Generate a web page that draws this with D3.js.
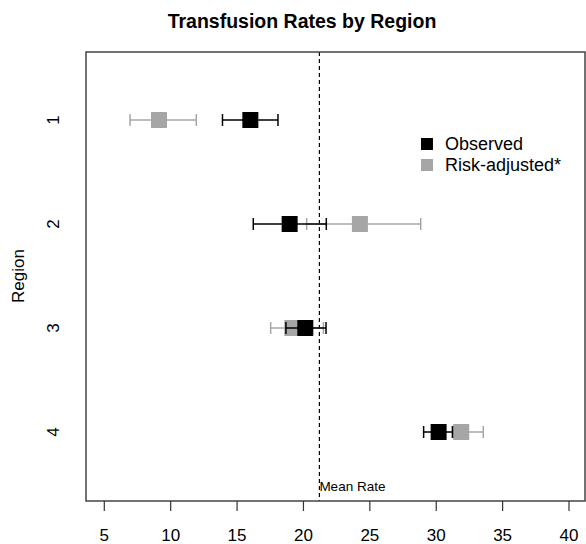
<!DOCTYPE html>
<html>
<head>
<meta charset="utf-8">
<script src="https://cdn.jsdelivr.net/npm/d3@7"></script>
<style>
  body { margin: 0; background: #fff; }
  text { font-family: 'Liberation Sans', Arial, sans-serif; }
</style>
</head>
<body>
<div id="chart"></div>
<script>
var regions = [1, 2, 3, 4]

// observed rate with interval
var observed = [16.0, 18.96, 20.14, 30.18]
var observedLo = [13.9, 16.22, 18.68, 29.05]
var observedHi = [18.08, 21.72, 21.7, 31.23]

// risk-adjusted rate with interval
var adjusted = [9.12, 24.25, 19.16, 31.88]
var adjustedLo = [6.94, 20.24, 17.53, 31.2]
var adjustedHi = [11.93, 28.83, 21.5, 33.54]

var meanRate = 21.2
var xTicks = [5, 10, 15, 20, 25, 30, 35, 40]
var legendLabels = ['Observed', 'Risk-adjusted*']

var width = 586, height = 544
var box = {left: 86, top: 52, right: 585, bottom: 501}
var black = '#000', grey = '#a6a6a6'

var svg = d3.select('#chart').append('svg')
  .attr('width', width)
  .attr('height', height)

var x = d3.scaleLinear().domain([5, 40]).range([104.3, 569])
var y = d3.scaleLinear().domain([1, 4]).range([120, 432])

svg.append('text')
  .attr('x', 302)
  .attr('y', 28)
  .attr('text-anchor', 'middle')
  .style('font-weight', 'bold')
  .style('font-size', '19.5px')
  .text('Transfusion Rates by Region')

// mean line
svg.append('line')
  .attr('x1', x(meanRate)).attr('x2', x(meanRate))
  .attr('y1', box.top).attr('y2', box.bottom)
  .attr('stroke', '#000')
  .attr('stroke-width', 1.2)
  .attr('stroke-dasharray', '4 3')

svg.append('text')
  .attr('x', x(meanRate))
  .attr('y', 491)
  .style('font-size', '13.5px')
  .text('Mean Rate')

function series(mid, lo, hi, color, lw) {
  var g = svg.append('g')
  var half = 6
  regions.forEach(function(r, i) {
    var cy = y(r)
    g.append('line')
      .attr('x1', x(lo[i])).attr('x2', x(hi[i]))
      .attr('y1', cy).attr('y2', cy)
      .attr('stroke', color).attr('stroke-width', lw)
    ;[lo[i], hi[i]].forEach(function(v) {
      g.append('line')
        .attr('x1', x(v)).attr('x2', x(v))
        .attr('y1', cy - half).attr('y2', cy + half)
        .attr('stroke', color).attr('stroke-width', lw)
    })
    g.append('rect')
      .attr('x', x(mid[i]) - 8).attr('y', cy - 8)
      .attr('width', 16).attr('height', 16)
      .attr('fill', color)
  })
}

series(adjusted, adjustedLo, adjustedHi, grey, 1.5)
series(observed, observedLo, observedHi, black, 1.5)

// frame
svg.append('rect')
  .attr('x', box.left).attr('y', box.top)
  .attr('width', box.right - box.left)
  .attr('height', box.bottom - box.top)
  .attr('fill', 'none')
  .attr('stroke', '#444')
  .attr('stroke-width', 1.5)

// x axis
var xa = svg.append('g')
xa.selectAll('line').data(xTicks).join('line')
  .attr('x1', d => x(d)).attr('x2', d => x(d))
  .attr('y1', box.bottom).attr('y2', box.bottom + 10)
  .attr('stroke', '#333').attr('stroke-width', 1.2)
xa.selectAll('text').data(xTicks).join('text')
  .attr('x', d => x(d))
  .attr('y', 541)
  .attr('text-anchor', 'middle')
  .style('font-size', '17px')
  .text(d => d)

// y labels, rotated
svg.selectAll('.ylab').data(regions).join('text')
  .attr('class', 'ylab')
  .attr('transform', d => 'translate(59,' + y(d) + ') rotate(-90)')
  .attr('text-anchor', 'middle')
  .style('font-size', '17px')
  .text(d => d)

svg.append('text')
  .attr('transform', 'translate(24,276) rotate(-90)')
  .attr('text-anchor', 'middle')
  .style('font-size', '17px')
  .text('Region')

// legend
var leg = svg.append('g').attr('transform', 'translate(421,144)')
leg.selectAll('rect').data(legendLabels).join('rect')
  .attr('x', 0).attr('y', (d, i) => i * 21 - 6)
  .attr('width', 12).attr('height', 12)
  .attr('fill', (d, i) => i ? grey : black)
leg.selectAll('text').data(legendLabels).join('text')
  .attr('x', 24).attr('y', (d, i) => i * 21 + 6)
  .style('font-size', '18px')
  .text(d => d)
</script>
</body>
</html>
